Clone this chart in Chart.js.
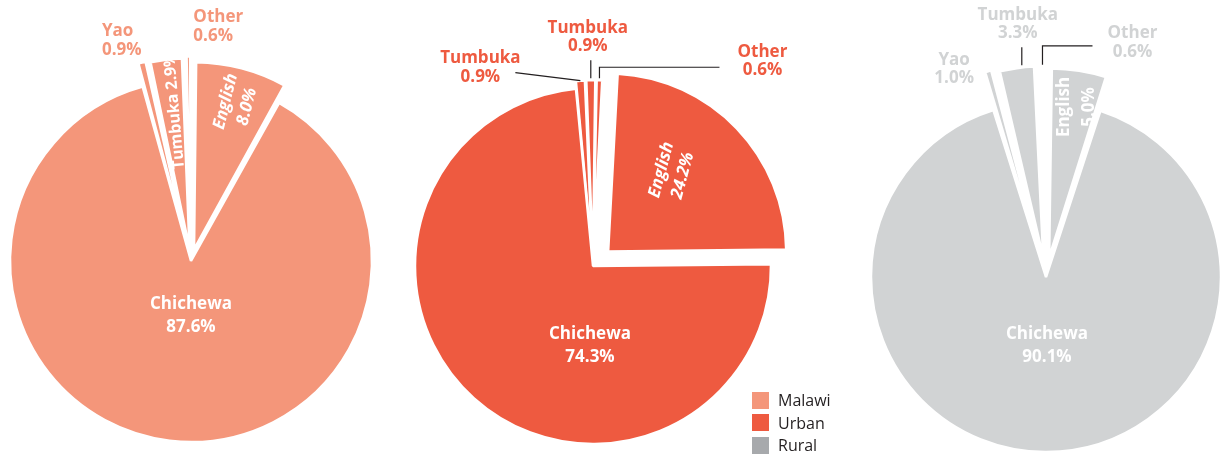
<!DOCTYPE html>
<html>
<head>
<meta charset="utf-8">
<script src="https://cdn.jsdelivr.net/npm/chart.js@4.4.1/dist/chart.umd.min.js"></script>
<style>
  body { margin: 0; background: #fff; width: 1221px; height: 455px; overflow: hidden; position: relative; font-family: 'Open Sans', sans-serif; }
  canvas { position: absolute; left: 0; top: 0; }
  #legend { position: absolute; left: 752px; top: 389px; }
  .item { display: flex; align-items: center; height: 22.5px; font-size: 16px; color: #231f20; }
  .sw { width: 17px; height: 17px; margin-right: 9px; }
</style>
</head>
<body>
<canvas id="malawi" width="1221" height="455"></canvas>
<canvas id="urban" width="1221" height="455"></canvas>
<canvas id="rural" width="1221" height="455"></canvas>
<div id="legend"></div>
<script>
// data
const malawiLabels = ['Yao', 'Tumbuka', 'Other', 'English', 'Chichewa'];
const malawiValues = [0.9, 2.9, 0.6, 8.0, 87.6];

const urbanLabels = ['Tumbuka', 'Tumbuka', 'Other', 'English', 'Chichewa'];
const urbanValues = [0.9, 0.9, 0.6, 24.2, 74.3];

const ruralLabels = ['Yao', 'Tumbuka', 'Other', 'English', 'Chichewa'];
const ruralValues = [1.0, 3.3, 0.6, 5.0, 90.1];

const legendLabels = ['Malawi', 'Urban', 'Rural'];
const legendColors = ['#F4967A', '#EE5A40', '#A7A9AC'];

const W = 1221, H = 455;

// draws the slice labels (and leader lines) from the arc geometry
const sliceLabels = {
  id: 'sliceLabels',
  afterDatasetsDraw(chart, args, opts) {
    const ctx = chart.ctx;
    const meta = chart.getDatasetMeta(0);
    const names = chart.data.labels;
    const values = chart.data.datasets[0].data;
    opts.items.forEach(item => {
      const arc = meta.data[item.index];
      const mid = (arc.startAngle + arc.endAngle) / 2;
      const circ = arc.endAngle - arc.startAngle;
      const off = (arc.options.offset || 0) / 4;
      const fix = 1 - Math.sin(Math.min(Math.PI, circ));
      const cx = arc.x + Math.cos(mid) * off;
      const cy = arc.y + Math.sin(mid) * off;
      const dist = item.tip ? arc.outerRadius + off * fix : arc.outerRadius * (item.f || 0);
      const ax = cx + Math.cos(mid) * dist;
      const ay = cy + Math.sin(mid) * dist;

      if (item.leader) {
        ctx.save();
        ctx.strokeStyle = '#231f20';
        ctx.lineWidth = 1.2;
        ctx.beginPath();
        item.leader.forEach(([lx, ly], k) => {
          if (k === 0) ctx.moveTo(ax + lx, ay + ly);
          else ctx.lineTo(ax + lx, ay + ly);
        });
        ctx.stroke();
        ctx.restore();
      }

      const val = values[item.index].toFixed(1) + '%';
      const lines = item.oneLine ? [names[item.index] + ' ' + val] : [names[item.index], val];
      ctx.save();
      ctx.translate(ax + (item.dx || 0), ay + (item.dy || 0));
      ctx.rotate((item.rot || 0) * Math.PI / 180);
      ctx.font = (item.italic ? 'italic ' : '') + 'bold ' + (item.size || 17) + 'px "Open Sans"';
      ctx.fillStyle = item.color;
      ctx.textAlign = item.align || 'center';
      ctx.textBaseline = 'middle';
      const lh = item.lh || 18.5;
      lines.forEach((t, k) => ctx.fillText(t, 0, (k - (lines.length - 1) / 2) * lh));
      ctx.restore();
    });
  }
};

function makePie(id, labels, values, color, center, radius, rotation, offsets, items) {
  const pad = {
    left: Math.max(0, 2 * center[0] - W),
    right: Math.max(0, W - 2 * center[0]),
    top: Math.max(0, 2 * center[1] - H),
    bottom: Math.max(0, H - 2 * center[1])
  };
  new Chart(document.getElementById(id), {
    type: 'pie',
    data: {
      labels: labels,
      datasets: [{
        data: values,
        backgroundColor: color,
        borderColor: '#ffffff',
        borderWidth: 2.5,
        offset: offsets,
        hoverOffset: 0,
        radius: radius,
        clip: false
      }]
    },
    options: {
      responsive: false,
      animation: false,
      events: [],
      rotation: rotation,
      layout: { padding: pad },
      plugins: {
        legend: { display: false },
        tooltip: { enabled: false },
        sliceLabels: { items: items }
      }
    },
    plugins: [sliceLabels]
  });
}

const malawiColor = '#F4967A';
makePie('malawi', malawiLabels, malawiValues, malawiColor, [191, 261], 181, -15.5, [48, 48, 48, 48, 0], [
  { index: 0, tip: true, dx: -40, dy: -22, align: 'left', color: malawiColor },
  { index: 2, tip: true, dx: 5, dy: -30, align: 'left', color: malawiColor },
  { index: 1, f: 0.77, dx: 2, rot: -95, size: 16, oneLine: true, color: '#fff' },
  { index: 3, f: 0.83, dx: 4, rot: -76, lh: 22, italic: true, color: '#fff' },
  { index: 4, f: 0, dy: 55, lh: 23, color: '#fff' }
]);

const urbanColor = '#EE5A40';
makePie('urban', urbanLabels, urbanValues, urbanColor, [593, 266], 178, -5.5, [16, 16, 16, 84, 0], [
  { index: 0, tip: true, dx: -100, dy: -13, color: urbanColor, leader: [[0, 0], [-65, -8]] },
  { index: 1, tip: true, dx: -3, dy: -43, color: urbanColor, leader: [[0, -2], [0, -20]] },
  { index: 2, tip: true, dx: 163, dy: -19, color: urbanColor, leader: [[0, -2], [0, -13], [120, -13]] },
  { index: 3, f: 0.567, dx: -9, dy: -9, rot: -75, lh: 22, italic: true, color: '#fff' },
  { index: 4, f: 0, dx: -3, dy: 80, lh: 23, color: '#fff' }
]);

const ruralColor = '#D1D3D4';
makePie('rural', ruralLabels, ruralValues, ruralColor, [1046, 277], 175, -17.5, [80, 80, 80, 80, 0], [
  { index: 0, tip: true, dx: -34, dy: -2, color: ruralColor },
  { index: 1, tip: true, dx: 1, dy: -44, color: ruralColor, leader: [[5, -3], [5, -21]] },
  { index: 2, tip: true, dx: 90, dy: -20, color: ruralColor, leader: [[0, 2], [0, -17], [50, -17]] },
  { index: 3, f: 0.87, dx: 3, rot: -90, lh: 25, color: '#fff' },
  { index: 4, f: 0, dx: 1, dy: 69, lh: 23, color: '#fff' }
]);

// legend
const legend = document.getElementById('legend');
legendLabels.forEach((name, i) => {
  legend.innerHTML += `<div class="item"><span class="sw" style="background:${legendColors[i]}"></span>${name}</div>`;
});
</script>
</body>
</html>
